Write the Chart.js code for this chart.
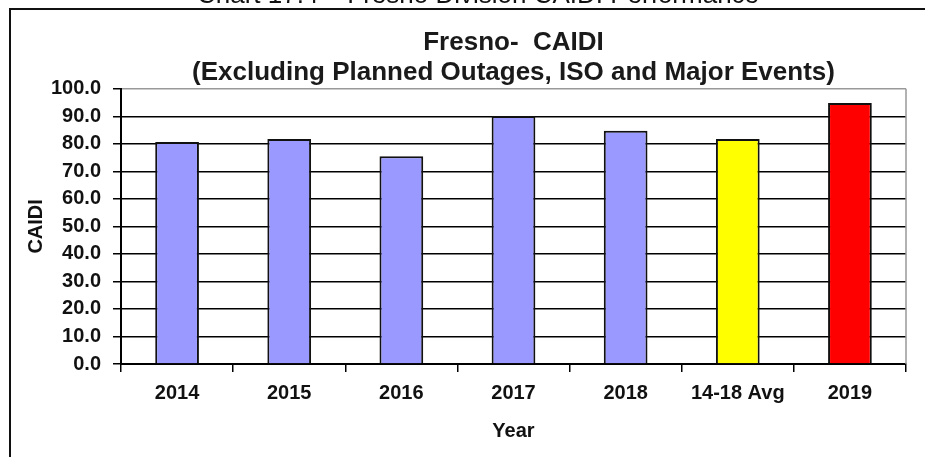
<!DOCTYPE html>
<html>
<head>
<meta charset="utf-8">
<title>Fresno CAIDI</title>
<script src="https://cdn.jsdelivr.net/npm/chart.js@4"></script>
<style>
  html, body { margin: 0; padding: 0; background: #fff; }
  #caidiChart { display: block; }
</style>
</head>
<body>
<canvas id="caidiChart" width="925" height="457"></canvas>
<script>
// categories and CAIDI values (minutes)
const years = ["2014", "2015", "2016", "2017", "2018", "14-18 Avg", "2019"];
const caidi = [80.7, 81.8, 75.5, 90.1, 84.8, 81.8, 94.8];
const barColors = ["#9999FF", "#9999FF", "#9999FF", "#9999FF", "#9999FF", "#FFFF00", "#FF0000"];

const yTicks = { min: 0, max: 100, step: 10 };

const FONT = "'Liberation Sans', Arial, sans-serif";

// outer frame, the cut-off caption above it and the grey right edge of the plot
const framePlugin = {
  id: "frame",
  beforeDraw(chart) {
    const ctx = chart.ctx;
    ctx.save();
    ctx.fillStyle = "#fff";
    ctx.fillRect(0, 0, chart.width, chart.height);
    ctx.strokeStyle = "#111";
    ctx.lineWidth = 2;
    ctx.beginPath();
    ctx.moveTo(10, chart.height);
    ctx.lineTo(10, 9);
    ctx.lineTo(chart.width, 9);
    ctx.stroke();
    ctx.fillStyle = "#111";
    ctx.font = "26px " + FONT;
    ctx.textAlign = "center";
    ctx.textBaseline = "alphabetic";
    ctx.fillText("Chart 17.4 \u2013 Fresno Division CAIDI Performance", 478, 3);
    ctx.restore();
  },
  afterDatasetsDraw(chart) {
    const { ctx, chartArea } = chart;
    ctx.save();
    ctx.strokeStyle = "#999";
    ctx.lineWidth = 1.5;
    ctx.beginPath();
    ctx.moveTo(chartArea.right, chartArea.top);
    ctx.lineTo(chartArea.right, chartArea.bottom);
    ctx.stroke();
    ctx.restore();
  }
};

const ctx = document.getElementById("caidiChart").getContext("2d");
new Chart(ctx, {
  type: "bar",
  data: {
    labels: years,
    datasets: [{
      label: "CAIDI",
      data: caidi,
      backgroundColor: barColors,
      borderColor: "#111",
      borderWidth: 2,
      barPercentage: 0.39,
      categoryPercentage: 1.0
    }]
  },
  options: {
    responsive: false,
    animation: false,
    layout: { padding: { left: 0, right: 19, top: 0, bottom: 0 } },
    plugins: {
      legend: { display: false },
      tooltip: { enabled: false },
      title: {
        display: true,
        fullSize: false, // centre the heading over the plot area
        text: ["Fresno-  CAIDI", "(Excluding Planned Outages, ISO and Major Events)"],
        color: "#1a1a1a",
        font: { family: FONT, size: 26, weight: "bold", lineHeight: 1.15 },
        padding: { top: 28, bottom: 1 }
      }
    },
    scales: {
      x: {
        offset: true,
        afterFit(scale) { scale.height = 93; },
        grid: {
          offset: true,
          drawOnChartArea: false,
          color: "#000",
          lineWidth: 1.5,
          tickLength: 8
        },
        border: { color: "#000", width: 2 },
        ticks: {
          color: "#111",
          padding: 9,
          font: { family: FONT, size: 20, weight: "bold" }
        },
        title: {
          display: true,
          text: "Year",
          color: "#111",
          font: { family: FONT, size: 20, weight: "bold" },
          padding: { top: 0, bottom: 14 }
        }
      },
      y: {
        min: yTicks.min,
        max: yTicks.max,
        afterFit(scale) { scale.width = 121; },
        grid: {
          color: (c) => (c.tick && c.tick.value === yTicks.max ? "#999" : "#000"),
          tickColor: "#000",
          lineWidth: 1.5,
          tickLength: 8
        },
        border: { color: "#000", width: 2 },
        ticks: {
          stepSize: yTicks.step,
          color: "#111",
          padding: 12,
          font: { family: FONT, size: 20, weight: "bold" },
          callback: (v) => Number(v).toFixed(1)
        },
        title: {
          display: true,
          text: "CAIDI",
          color: "#111",
          font: { family: FONT, size: 20, weight: "bold" },
          padding: { top: 24, bottom: 0 }
        }
      }
    }
  },
  plugins: [framePlugin]
});
</script>
</body>
</html>
